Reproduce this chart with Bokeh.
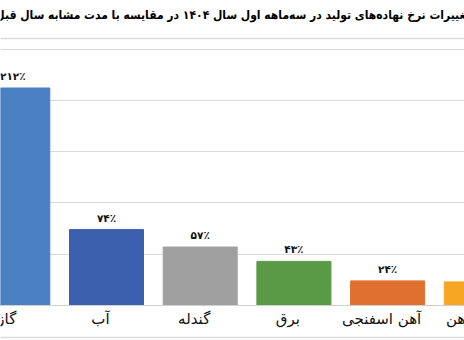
from bokeh.plotting import figure
from bokeh.models import ColumnDataSource, Range1d, Span, Label, FixedTicker
from bokeh.core.properties import value
from bokeh.embed import file_html
from bokeh.resources import INLINE

title_text = "تغییرات نرخ نهاده‌های تولید در سه‌ماهه اول سال ۱۴۰۴ در مقایسه با مدت مشابه سال قبل"
categories = ["گاز", "آب", "گندله", "برق", "آهن اسفنجی", "سنگ آهن"]
changes = [212, 74, 57, 43, 24, 23]
colors = ["#4b80c3", "#3c5fae", "#a0a0a0", "#5a9a47", "#e0702f", "#f6a623"]
grid_ticks = [0, 50, 100, 150, 200, 250]

fa_digits = str.maketrans("0123456789", "۰۱۲۳۴۵۶۷۸۹")
value_labels = [str(v).translate(fa_digits) + "٪" for v in changes]
# last bar's value label is outside the visible area in the reference
value_labels[-1] = ""

W, H = 464, 340
base_px = 305.0
px_per_unit = 51.3 / 50.0
y_top = base_px / px_per_unit
y_bot = -(H - base_px) / px_per_unit
pitch = 93.7
first_center = 12.3
x_start = -first_center / pitch
x_end = (W - first_center) / pitch

src = ColumnDataSource(dict(
    x=list(range(len(categories))),
    top=changes,
    color=colors,
    cat=categories,
    vlab=value_labels,
))

p = figure(width=W, height=H, output_backend="svg", toolbar_location=None,
           x_range=Range1d(x_start, x_end), y_range=Range1d(y_bot, y_top),
           min_border=0, min_border_left=0, min_border_right=0,
           min_border_top=0, min_border_bottom=0)
p.axis.visible = False
p.xgrid.visible = False
p.ygrid.ticker = FixedTicker(ticks=grid_ticks)
p.ygrid.grid_line_color = "#d9d9d9"
p.ygrid.grid_line_width = 1
p.outline_line_color = None
p.background_fill_color = "white"
p.border_fill_color = "white"

p.vbar(x="x", top="top", width=0.79, bottom=0, color="color", source=src)

# baseline
p.add_layout(Span(location=0, dimension="width", line_color="#d0d0d0", line_width=1))
# frame lines of the chart box
p.add_layout(Span(location=(base_px - 38) / px_per_unit, dimension="width",
                  line_color="#dcdcdc", line_width=1.5))
p.add_layout(Span(location=(base_px - 337) / px_per_unit, dimension="width",
                  line_color="#dcdcdc", line_width=1.5))

p.text(x="x", y="top", text="vlab", source=src, text_align="center",
       text_baseline="middle", y_offset=-12,
       text_font=value("DejaVu Sans"), text_font_style="bold",
       text_font_size="10.5px", text_color="#111111")

p.text(x="x", y=0, text="cat", source=src, text_align="center",
       text_baseline="middle", y_offset=13, x_offset=-6,
       text_font=value("DejaVu Sans"), text_font_size="15px",
       text_color="#111111")

p.add_layout(Label(x=W / 2, y=H - 14, x_units="screen", y_units="screen",
                   text=title_text, text_align="center", text_baseline="middle",
                   text_font="DejaVu Sans Condensed", text_font_style="bold",
                   text_font_size="12px", text_color="#000000"))

open("out.html", "w").write(file_html(p, INLINE))
